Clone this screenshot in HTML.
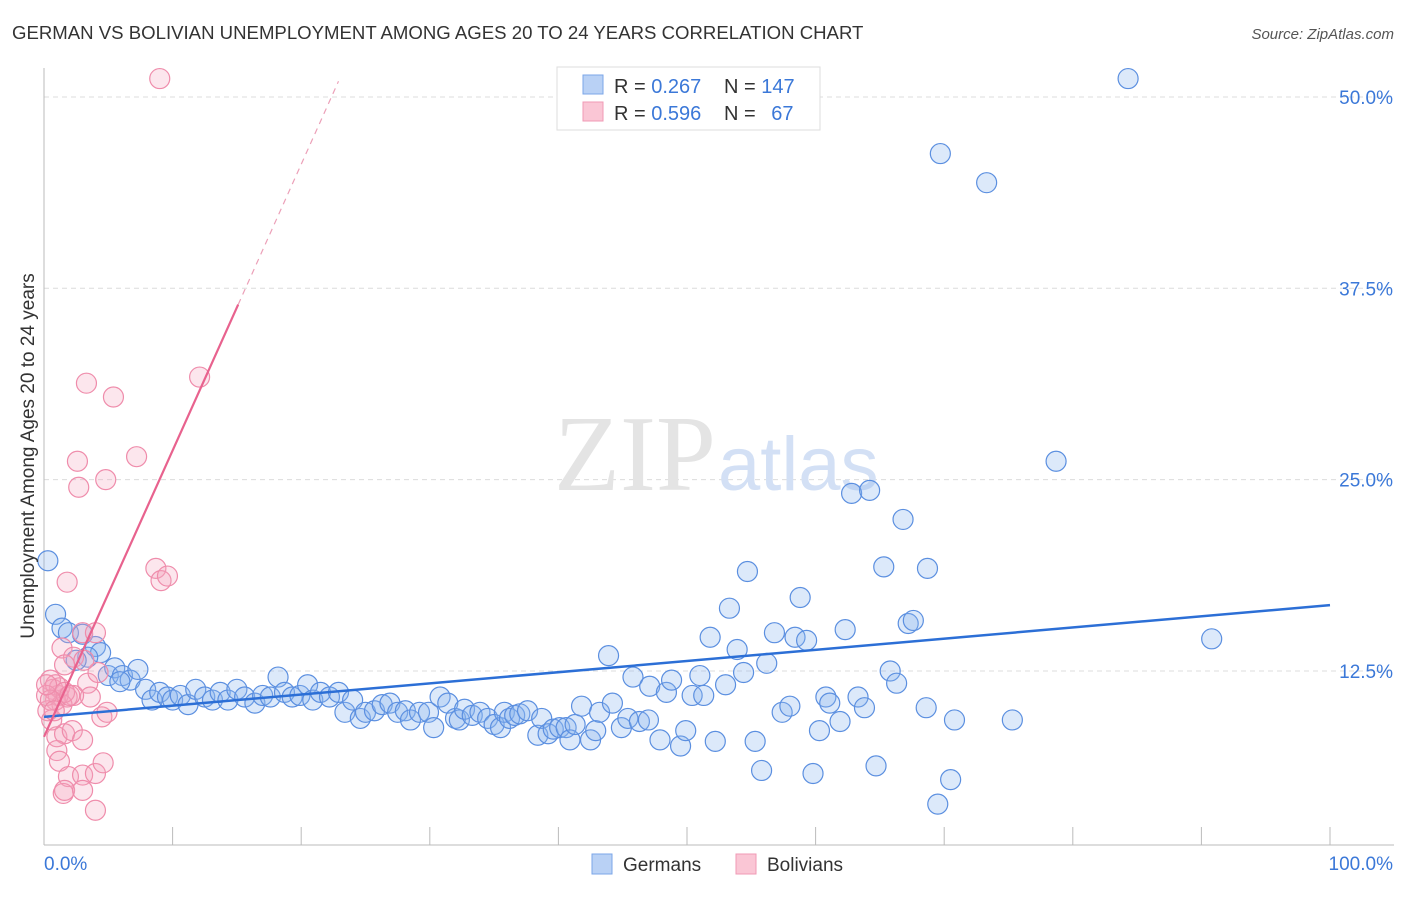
<!DOCTYPE html>
<html><head><meta charset="utf-8"><style>
body{margin:0;background:#fff;font-family:"Liberation Sans",sans-serif}
svg text{font-family:"Liberation Sans",sans-serif}
</style></head><body>
<svg id="chart" width="1406" height="892" viewBox="0 0 1406 892">
<text x="12" y="39" font-size="18.6" fill="#333">GERMAN VS BOLIVIAN UNEMPLOYMENT AMONG AGES 20 TO 24 YEARS CORRELATION CHART</text>
<text x="1394" y="39" font-size="15" fill="#555" text-anchor="end" font-style="italic">Source: ZipAtlas.com</text>
<g id="grid"></g>
<text x="716" y="490" font-size="108" fill="#e4e4e4" text-anchor="end" style="font-family:'Liberation Serif',serif">ZIP</text>
<text x="718" y="490" font-size="76" fill="#d3e0f5">atlas</text>
<g id="axes"></g>
<g id="pts"></g>
<g id="lines"></g>
<text transform="translate(34,456) rotate(-90)" font-size="19" fill="#333" text-anchor="middle">Unemployment Among Ages 20 to 24 years</text>
<g>
<rect x="557" y="67" width="263" height="63" fill="#fff" stroke="#ddd"/>
<rect x="583" y="75" width="20" height="19" fill="#b9d1f5" stroke="#7ba6e8"/>
<rect x="583" y="102" width="20" height="19" fill="#fac6d5" stroke="#f09ab5"/>
<text x="614" y="93" font-size="20" fill="#333">R = <tspan fill="#3b78d8">0.267</tspan></text>
<text x="724" y="93" font-size="20" fill="#333">N = <tspan fill="#3b78d8">147</tspan></text>
<text x="614" y="120" font-size="20" fill="#333">R = <tspan fill="#3b78d8">0.596</tspan></text>
<text x="724" y="120" font-size="20" fill="#333">N = <tspan fill="#3b78d8" dx="10">67</tspan></text>
</g>
<g>
<rect x="592" y="854" width="20" height="20" fill="#b9d1f5" stroke="#7ba6e8"/>
<text x="623" y="871" font-size="19" fill="#333">Germans</text>
<rect x="736" y="854" width="20" height="20" fill="#fac6d5" stroke="#f09ab5"/>
<text x="767" y="871" font-size="19" fill="#333">Bolivians</text>
</g>
</svg>
<script>
const yTicks=[12.5,25,37.5,50];
const yTickLabels=["12.5%","25.0%","37.5%","50.0%"];
const xTickLabels=["0.0%","100.0%"];
const germanX=[0.3,0.9,1.4,1.9,3.0,4.0,4.4,3.4,2.5,5.0,5.5,6.1,6.7,7.3,5.9,7.9,8.4,9.0,9.6,10.0,10.6,11.2,11.8,12.5,13.1,13.7,14.3,15.0,15.6,16.4,17.0,17.6,18.2,18.7,19.3,19.9,20.5,20.9,21.5,22.2,22.9,23.4,24.0,24.6,25.0,25.7,26.3,26.9,27.5,28.1,28.5,29.2,29.9,30.3,30.8,31.4,32.0,32.3,32.7,33.3,33.9,34.5,35.0,35.5,35.8,36.2,36.6,37.0,37.6,38.4,38.7,39.2,39.6,40.1,40.6,40.9,41.3,41.8,42.5,42.9,43.2,43.9,44.2,44.9,45.4,45.8,46.3,47.0,47.1,47.9,48.4,48.8,49.5,49.9,50.4,51.0,51.3,51.8,52.2,53.0,53.3,53.9,54.4,54.7,55.3,55.8,56.2,56.8,57.4,58.0,58.4,58.8,59.3,59.8,60.3,60.8,61.1,61.9,62.3,62.8,63.3,63.8,64.2,64.7,65.3,65.8,66.3,66.8,67.2,67.6,68.6,68.7,69.5,69.7,70.5,70.8,73.3,75.3,78.7,84.3,90.8];
const germanY=[19.7,16.2,15.3,15.0,14.9,14.1,13.7,13.4,13.2,12.2,12.7,12.2,11.9,12.6,11.8,11.3,10.6,11.1,10.8,10.6,10.9,10.3,11.3,10.8,10.6,11.1,10.6,11.3,10.8,10.4,10.9,10.8,12.1,11.1,10.8,10.9,11.6,10.6,11.1,10.8,11.1,9.8,10.6,9.4,9.8,9.9,10.3,10.4,9.8,9.9,9.3,9.8,9.8,8.8,10.8,10.4,9.4,9.3,10.0,9.6,9.8,9.4,9.0,8.8,9.8,9.4,9.6,9.7,9.9,8.3,9.4,8.4,8.7,8.8,8.8,8.0,9.0,10.2,8.0,8.6,9.8,13.5,10.4,8.8,9.4,12.1,9.2,9.3,11.5,8.0,11.1,11.9,7.6,8.6,10.9,12.2,10.9,14.7,7.9,11.6,16.6,13.9,12.4,19.0,7.9,6.0,13.0,15.0,9.8,10.2,14.7,17.3,14.5,5.8,8.6,10.8,10.4,9.2,15.2,24.1,10.8,10.1,24.3,6.3,19.3,12.5,11.7,22.4,15.6,15.8,10.1,19.2,3.8,46.3,5.4,9.3,44.4,9.3,26.2,51.2,14.6];
const bolivianX=[9.0,3.3,5.4,12.1,2.6,2.7,4.8,7.2,1.8,8.7,9.1,9.6,3.0,4.0,1.4,2.3,1.6,3.4,4.2,3.6,2.3,1.8,4.5,4.9,1.0,1.6,2.2,3.0,1.0,1.2,1.9,3.0,4.0,4.6,1.5,1.6,3.0,4.0,3.1,0.5,0.7,0.9,1.1,1.2,1.4,0.3,0.6,0.9,1.6,2.0,0.2,0.5,0.2,0.8];
const bolivianY=[51.2,31.3,30.4,31.7,26.2,24.5,25.0,26.5,18.3,19.2,18.4,18.7,15.0,15.0,14.0,13.4,12.9,11.7,12.4,10.8,10.9,10.8,9.5,9.8,8.2,8.4,8.6,8.0,7.3,6.6,5.6,5.7,5.8,6.5,4.5,4.7,4.7,3.4,13.2,11.9,11.3,10.6,10.9,11.4,10.3,9.9,9.3,11.6,11.1,10.9,10.9,10.6,11.6,9.9];
const germanTrend=[9.5,16.8];
const bolivianTrend=[8.2,1.87];
const NS="http://www.w3.org/2000/svg";
const X0=44,X1=1330,Y0=862.3,PX=15.307;
function sx(v){return X0+(X1-X0)*v/100;}
function sy(v){return Y0-v*PX;}
function mk(tag,attrs,parent){const e=document.createElementNS(NS,tag);for(const k in attrs)e.setAttribute(k,attrs[k]);parent.appendChild(e);return e;}
const grid=document.getElementById('grid'),axes=document.getElementById('axes'),pts=document.getElementById('pts'),lines=document.getElementById('lines');
yTicks.forEach((t,i)=>{
  const l=mk('line',{x1:44,x2:1394,y1:sy(t),y2:sy(t),stroke:'#dcdcdc','stroke-dasharray':'5,4'},grid);
  
  
  const tx=mk('text',{x:1393,y:sy(t)+7,'font-size':19,fill:'#3b78d8','text-anchor':'end'},axes);
  tx.textContent=yTickLabels[i];
  
  
});
const ax=mk('line',{x1:44,x2:1394,y1:845,y2:845,stroke:'#bbb'},axes);


const ay=mk('line',{x1:44,x2:44,y1:68,y2:845,stroke:'#bbb'},axes);


for(let i=0;i<=10;i++){
  const t=mk('line',{x1:sx(i*10),x2:sx(i*10),y1:827,y2:845,stroke:'#bbb'},axes);
  
  
}
xTickLabels.forEach((s,i)=>{
  const t=mk('text',{x:i?1393:44,y:870,'font-size':19,fill:'#3b78d8','text-anchor':i?'end':'start'},axes);
  t.textContent=s;
  
  
});
germanX.forEach((x,i)=>{
  const c=mk('circle',{cx:sx(x),cy:sy(germanY[i]),r:10,fill:'rgba(140,182,240,0.3)',stroke:'#5b8fe0','stroke-width':1.2},pts);
  
  
});
bolivianX.forEach((x,i)=>{
  const c=mk('circle',{cx:sx(x),cy:sy(bolivianY[i]),r:10,fill:'rgba(246,165,190,0.28)',stroke:'#ef8cab','stroke-width':1.2},pts);
  
  
});
const gl=mk('line',{x1:sx(0),y1:sy(germanTrend[0]),x2:sx(100),y2:sy(germanTrend[1]),stroke:'#2c6fd6','stroke-width':2.5},lines);


const bEnd=15.1,bDash=22.9;
const bl=mk('line',{x1:sx(0),y1:sy(bolivianTrend[0]),x2:sx(bEnd),y2:sy(bolivianTrend[0]+bolivianTrend[1]*bEnd),stroke:'#e8628e','stroke-width':2.2},lines);


const bd=mk('line',{x1:sx(bEnd),y1:sy(bolivianTrend[0]+bolivianTrend[1]*bEnd),x2:sx(bDash),y2:sy(bolivianTrend[0]+bolivianTrend[1]*bDash),stroke:'#eca0b8','stroke-width':1.2,'stroke-dasharray':'6,5'},lines);


</script>
</body></html>
